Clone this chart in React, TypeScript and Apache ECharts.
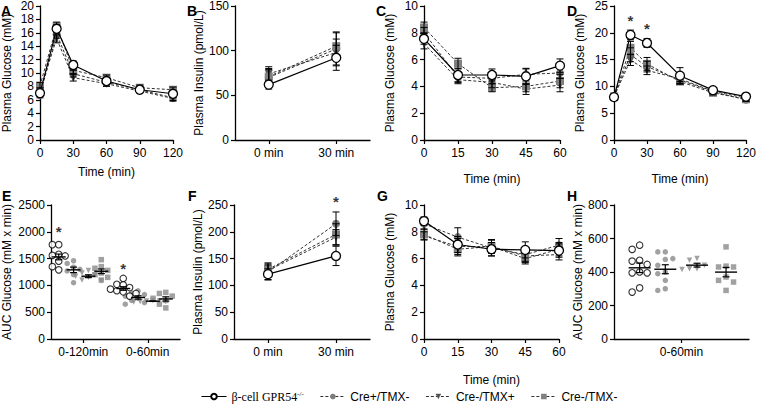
import React, { useEffect, useRef } from "react";
import * as echarts from "echarts";

// ---------- data ----------
const groupNames = ["β-cell GPR54-/-", "Cre+/TMX-", "Cre-/TMX+", "Cre-/TMX-"];

// Panel A (OGTT, 0-120 min)
const timeA = [0, 15, 30, 60, 90, 120];
const A_ko = [7.0, 16.6, 11.2, 8.8, 7.5, 6.9];
const A_ko_err = [0.4, 0.6, 0.6, 0.4, 0.4, 0.5];
const A_crePos = [6.7, 15.8, 9.9, 8.6, 7.5, 6.3];
const A_crePos_err = [0.4, 0.6, 0.5, 0.4, 0.3, 0.4];
const A_tmx = [7.4, 15.1, 9.3, 8.4, 7.3, 6.2];
const A_tmx_err = [0.4, 0.6, 0.5, 0.4, 0.3, 0.4];
const A_ctrl = [8.1, 17.0, 10.4, 9.3, 7.8, 7.5];
const A_ctrl_err = [0.5, 0.6, 0.5, 0.4, 0.4, 0.4];

// Panel B (insulin)
const catsInsulin = ["0 min", "30 min"];
const B_ko = [62, 92];
const B_ko_err = [5, 14];
const B_crePos = [70, 102];
const B_crePos_err = [10, 18];
const B_tmx = [74, 98];
const B_tmx_err = [8, 15];
const B_ctrl = [71, 105];
const B_ctrl_err = [8, 16];

// Panel C (0-60)
const timeC = [0, 15, 30, 45, 60];
const C_ko = [7.55, 4.85, 4.85, 4.75, 5.55];
const C_ko_err = [0.4, 0.5, 0.45, 0.6, 0.5];
const C_crePos = [8.0, 4.7, 4.6, 4.9, 5.0];
const C_crePos_err = [0.4, 0.4, 0.4, 0.4, 0.4];
const C_tmx = [7.2, 4.5, 4.3, 3.8, 4.1];
const C_tmx_err = [0.4, 0.3, 0.4, 0.4, 0.5];
const C_ctrl = [8.4, 5.7, 3.9, 4.0, 4.4];
const C_ctrl_err = [0.4, 0.4, 0.3, 0.4, 0.5];

// Panel D (0-120)
const timeD = [0, 15, 30, 60, 90, 120];
const D_ko = [8.0, 19.6, 18.1, 12.0, 9.3, 8.1];
const D_ko_err = [0.3, 0.9, 0.8, 1.5, 0.4, 0.3];
const D_crePos = [8.0, 15.9, 13.7, 11.2, 9.0, 7.5];
const D_crePos_err = [0.3, 1.3, 1.0, 0.6, 0.4, 0.3];
const D_tmx = [8.1, 14.9, 13.0, 11.4, 9.1, 7.8];
const D_tmx_err = [0.3, 1.0, 0.8, 0.5, 0.4, 0.3];
const D_ctrl = [8.0, 17.2, 14.2, 10.9, 8.8, 7.6];
const D_ctrl_err = [0.3, 1.2, 1.2, 0.5, 0.4, 0.3];
const D_stars = [[15, 22.8], [30, 21.3]];

// Panel E (AUC individual values)
const catsE = ["0-120min", "0-60min"];
const E120_ko = [1760, 1760, 1560, 1550, 1580, 1450, 1480, 1350, 1290];
const E120_crePos = [1460, 1410, 1340, 1300, 1270, 1200, 1050];
const E120_tmx = [1280, 1230, 1190, 1170, 1150, 1100, 1080];
const E120_ctrl = [1480, 1350, 1320, 1280, 1230, 1200, 1150, 1100];
const E60_ko = [1130, 1020, 1010, 960, 930, 900, 880, 850, 800];
const E60_crePos = [900, 860, 830, 800, 760, 720, 680, 650];
const E60_tmx = [720, 710, 700, 700, 690, 710];
const E60_ctrl = [870, 850, 800, 760, 720, 650, 580];
const E_stars = [[0, 2065], [1, 1380]]; // [category index, value]

// Panel F (insulin)
const F_ko = [121, 155];
const F_ko_err = [10, 18];
const F_crePos = [125, 215];
const F_crePos_err = [15, 22];
const F_tmx = [128, 190];
const F_tmx_err = [10, 14];
const F_ctrl = [130, 195];
const F_ctrl_err = [12, 20];
const F_stars = [[1, 262]];

// Panel G (0-60)
const timeG = [0, 15, 30, 45, 60];
const G_ko = [8.8, 7.05, 6.7, 6.65, 6.6];
const G_ko_err = [0.3, 0.6, 0.5, 0.6, 0.5];
const G_crePos = [8.6, 7.6, 6.8, 6.3, 7.0];
const G_crePos_err = [0.4, 0.7, 0.6, 0.5, 0.5];
const G_tmx = [7.7, 6.9, 6.9, 6.2, 6.3];
const G_tmx_err = [0.3, 0.6, 0.5, 0.5, 0.4];
const G_ctrl = [7.8, 6.7, 6.9, 6.0, 6.7];
const G_ctrl_err = [0.4, 0.5, 0.5, 0.4, 0.5];

// Panel H (AUC 0-60)
const catsH = ["0-60min"];
const H_ko = [560, 535, 470, 465, 445, 400, 395, 395, 305, 280];
const H_crePos = [520, 520, 480, 475, 440, 400, 390, 350, 300, 290];
const H_tmx = [480, 470, 440, 420, 420, 415];
const H_ctrl = [550, 430, 435, 430, 370, 350, 340, 290];

// ---------- styles ----------
const FONT = "Liberation Sans, Arial, sans-serif";
const TRI_DOWN = "path://M0,0 L10,0 L5,9 Z";
const groupStyle = [
  { symbol: "circle", symbolSize: 9, itemStyle: { color: "#ffffff", borderColor: "#000", borderWidth: 1.3 }, lineStyle: { color: "#000", width: 1.2, type: "solid" as any }, z: 5 },
  { symbol: "circle", symbolSize: 8, itemStyle: { color: "#7c7c7c" }, lineStyle: { color: "#333", width: 1, type: [3, 2] as any }, z: 3 },
  { symbol: TRI_DOWN, symbolSize: 8, itemStyle: { color: "#555555" }, lineStyle: { color: "#333", width: 1, type: [3, 2] as any }, z: 3 },
  { symbol: "rect", symbolSize: 8, itemStyle: { color: "#808080" }, lineStyle: { color: "#333", width: 1, type: [3, 2] as any }, z: 3 },
];

function mean(a: number[]) { return a.reduce((s, v) => s + v, 0) / a.length; }
function sem(a: number[]) {
  const m = mean(a);
  const v = a.reduce((s, x) => s + (x - m) * (x - m), 0) / (a.length - 1);
  return Math.sqrt(v / a.length);
}
// beeswarm offsets (px) for a column of values
function swarm(vals: number[], pxPerVal: number, d: number) {
  const placed: { x: number; y: number }[] = [];
  const out = new Array(vals.length).fill(0);
  const order = vals.map((_, i) => i).sort((a, b) => vals[b] - vals[a]);
  for (const i of order) {
    const y = vals[i] * pxPerVal;
    for (const k of [0, -1, 1, -2, 2, -3, 3]) {
      const c = k * d;
      if (placed.every((p) => Math.hypot(p.x - c, p.y - y) >= d * 0.95)) {
        out[i] = c; placed.push({ x: c, y }); break;
      }
    }
  }
  return out;
}

export default function App() {
  const ref = useRef<HTMLDivElement>(null);
  useEffect(() => {
    const chart = echarts.init(ref.current!, undefined, { renderer: "svg" });
    const grid: any[] = [], xAxis: any[] = [], yAxis: any[] = [], series: any[] = [];

    const axisCommon = {
      axisLine: { show: true, onZero: false, lineStyle: { color: "#000", width: 1.3 } },
      axisTick: { show: true, length: 4, lineStyle: { color: "#000", width: 1.2 } },
      axisLabel: { color: "#000", fontSize: 12, fontFamily: FONT },
      splitLine: { show: false },
      nameTextStyle: { color: "#000", fontSize: 12, fontFamily: FONT },
    };

    function addPanel(p: any) {
      const gi = grid.length;
      grid.push({ left: p.left, top: p.top, width: p.width, height: p.height });
      const xi = xAxis.length;
      if (p.dots) {
        const centersCat = p.cats.map((_: string, i: number) => i + 0.5);
        xAxis.push({ ...axisCommon, gridIndex: gi, type: "value", min: 0, max: p.cats.length,
          axisTick: { ...axisCommon.axisTick, customValues: centersCat },
          axisLabel: { ...axisCommon.axisLabel, margin: 7, customValues: centersCat,
            formatter: (v: number) => p.cats[Math.floor(v)] ?? "" } });
      } else if (p.cats) {
        xAxis.push({ ...axisCommon, gridIndex: gi, type: "category", data: p.cats, boundaryGap: true,
          axisTick: { ...axisCommon.axisTick, alignWithLabel: true },
          axisLabel: { ...axisCommon.axisLabel, margin: 7 } });
      } else {
        xAxis.push({ ...axisCommon, gridIndex: gi, type: "value", min: p.xMin, max: p.xMax, interval: p.xInterval,
          axisLabel: { ...axisCommon.axisLabel, margin: 7 },
          name: p.xName, nameLocation: "middle", nameGap: p.xNameGap });
      }
      const yi = yAxis.length;
      yAxis.push({ ...axisCommon, gridIndex: gi, type: "value", min: 0, max: p.yMax, interval: p.yInterval,
        axisLabel: { ...axisCommon.axisLabel, margin: 6, formatter: (v: number) => String(v) },
        name: p.yName, nameLocation: "middle", nameGap: p.yNameGap });
      return { gi, xi, yi };
    }

    function errSeries(xi: number, yi: number, data: number[][]) {
      series.push({
        type: "custom", xAxisIndex: xi, yAxisIndex: yi, z: 4, silent: true,
        encode: { x: 0, y: 1 }, data,
        renderItem: (_p: any, api: any) => {
          const x = api.value(0), m = api.value(1), e = api.value(2);
          const a = api.coord([x, m + e]); const b = api.coord([x, m - e]);
          const cw = 3.5; const st = { stroke: "#000", lineWidth: 1 };
          return { type: "group", children: [
            { type: "line", shape: { x1: a[0], y1: a[1], x2: b[0], y2: b[1] }, style: st },
            { type: "line", shape: { x1: a[0] - cw, y1: a[1], x2: a[0] + cw, y2: a[1] }, style: st },
            { type: "line", shape: { x1: b[0] - cw, y1: b[1], x2: b[0] + cw, y2: b[1] }, style: st },
          ] };
        },
      });
    }

    function starSeries(xi: number, yi: number, data: number[][]) {
      series.push({
        type: "scatter", xAxisIndex: xi, yAxisIndex: yi, data, symbolSize: 1, clip: false, z: 6,
        itemStyle: { color: "rgba(0,0,0,0)" }, silent: true,
        label: { show: true, formatter: "*", position: "inside", fontSize: 15, fontWeight: "bold", color: "#000", fontFamily: FONT, offset: [0, 3] },
      });
    }

    function linePanel(p: any, xs: number[] | null, vals: number[][], errs: number[][], stars?: number[][]) {
      const { xi, yi } = addPanel(p);
      const errData: number[][] = [];
      [1, 2, 3, 0].forEach((g) => {
        const st = groupStyle[g];
        series.push({
          type: "line", name: groupNames[g], xAxisIndex: xi, yAxisIndex: yi,
          data: vals[g].map((v, k) => [xs ? xs[k] : k, v]),
          symbol: st.symbol, symbolSize: st.symbolSize, itemStyle: st.itemStyle, lineStyle: st.lineStyle,
          z: st.z, showAllSymbol: true,
        });
        vals[g].forEach((v, k) => errData.push([xs ? xs[k] : k, v, errs[g][k]]));
      });
      errSeries(xi, yi, errData);
      if (stars) starSeries(xi, yi, stars);
    }

    function dotPanel(p: any, cols: number[][][], offsets: number[], stars?: number[][]) {
      const { xi, yi } = addPanel({ ...p, dots: true });
      const nCat = p.cats.length;
      const pxPerVal = p.height / p.yMax;
      const pxPerX = p.width / nCat;
      const meanData: number[][] = [];
      [1, 2, 3, 0].forEach((g) => {
        const st = groupStyle[g];
        const data: number[][] = [];
        cols.forEach((colSet, ci) => {
          const vals = colSet[g];
          const cx = ci + 0.5 + offsets[g];
          const offs = swarm(vals, pxPerVal, p.dot);
          vals.forEach((v, k) => data.push([cx + offs[k] / pxPerX, v]));
          meanData.push([cx, mean(vals), sem(vals)]);
        });
        series.push({
          type: "scatter", name: groupNames[g], xAxisIndex: xi, yAxisIndex: yi, data,
          symbol: st.symbol, symbolSize: g === 0 ? 6.5 : 5.5,
          itemStyle: g === 0 ? { color: "#fff", borderColor: "#000", borderWidth: 1.1 } : { ...st.itemStyle, color: "#8a8a8a" }, z: 3,
        });
      });
      series.push({
        type: "custom", xAxisIndex: xi, yAxisIndex: yi, z: 5, silent: true, encode: { x: 0, y: 1 }, data: meanData,
        renderItem: (_p: any, api: any) => {
          const x = api.value(0), m = api.value(1), e = api.value(2);
          const c = api.coord([x, m]); const a = api.coord([x, m + e]); const b = api.coord([x, m - e]);
          const st = { stroke: "#000", lineWidth: 1.2 };
          return { type: "group", children: [
            { type: "line", shape: { x1: c[0] - p.meanHalf, y1: c[1], x2: c[0] + p.meanHalf, y2: c[1] }, style: { stroke: "#000", lineWidth: 1.4 } },
            { type: "line", shape: { x1: a[0], y1: a[1], x2: b[0], y2: b[1] }, style: st },
            { type: "line", shape: { x1: a[0] - 3.5, y1: a[1], x2: a[0] + 3.5, y2: a[1] }, style: st },
            { type: "line", shape: { x1: b[0] - 3.5, y1: b[1], x2: b[0] + 3.5, y2: b[1] }, style: st },
          ] };
        },
      });
      if (stars) starSeries(xi, yi, stars.map((s) => [s[0] + 0.5 + offsets[0], s[1]]));
    }

    const rowTop1 = 5, rowH1 = 135, rowTop2 = 205, rowH2 = 134;

    linePanel({ left: 39, top: rowTop1, width: 134, height: rowH1, xMin: 0, xMax: 120, xInterval: 30, xName: "Time (min)", xNameGap: 26, yMax: 20, yInterval: 2, yName: "Plasma Glucose (mM)", yNameGap: 27 },
      timeA, [A_ko, A_crePos, A_tmx, A_ctrl], [A_ko_err, A_crePos_err, A_tmx_err, A_ctrl_err]);
    linePanel({ left: 235, top: rowTop1, width: 135, height: rowH1, cats: catsInsulin, yMax: 150, yInterval: 50, yName: "Plasma Insulin (pmol/L)", yNameGap: 28 },
      null, [B_ko, B_crePos, B_tmx, B_ctrl], [B_ko_err, B_crePos_err, B_tmx_err, B_ctrl_err]);
    linePanel({ left: 424, top: rowTop1, width: 136, height: rowH1, xMin: 0, xMax: 60, xInterval: 15, xName: "Time (min)", xNameGap: 33, yMax: 10, yInterval: 2, yName: "Plasma Glucose (mM)", yNameGap: 28 },
      timeC, [C_ko, C_crePos, C_tmx, C_ctrl], [C_ko_err, C_crePos_err, C_tmx_err, C_ctrl_err]);
    linePanel({ left: 614, top: rowTop1, width: 139, height: rowH1, xMin: 0, xMax: 120, xInterval: 30, xName: "Time (min)", xNameGap: 33, yMax: 25, yInterval: 5, yName: "Plasma Glucose (mM)", yNameGap: 28 },
      timeD, [D_ko, D_crePos, D_tmx, D_ctrl], [D_ko_err, D_crePos_err, D_tmx_err, D_ctrl_err], D_stars);

    dotPanel({ left: 49, top: rowTop2, width: 131, height: rowH2, cats: catsE, yMax: 2500, yInterval: 500, yName: "AUC Glucose (mM x min)", yNameGap: 38, dot: 6.5, meanHalf: 7 },
      [[E120_ko, E120_crePos, E120_tmx, E120_ctrl], [E60_ko, E60_crePos, E60_tmx, E60_ctrl]],
      [-0.38, -0.15, 0.08, 0.28], E_stars);
    linePanel({ left: 234, top: rowTop2, width: 136, height: rowH2, cats: catsInsulin, yMax: 250, yInterval: 50, yName: "Plasma Insulin (pmol/L)", yNameGap: 28 },
      null, [F_ko, F_crePos, F_tmx, F_ctrl], [F_ko_err, F_crePos_err, F_tmx_err, F_ctrl_err], F_stars);
    linePanel({ left: 424, top: rowTop2, width: 135, height: rowH2, xMin: 0, xMax: 60, xInterval: 15, xName: "Time (min)", xNameGap: 35, yMax: 10, yInterval: 2, yName: "Plasma Glucose (mM)", yNameGap: 28 },
      timeG, [G_ko, G_crePos, G_tmx, G_ctrl], [G_ko_err, G_crePos_err, G_tmx_err, G_ctrl_err]);
    dotPanel({ left: 614, top: rowTop2, width: 135, height: rowH2, cats: catsH, yMax: 800, yInterval: 200, yName: "AUC Glucose (mM x min)", yNameGap: 28, dot: 7.5, meanHalf: 11 },
      [[H_ko, H_crePos, H_tmx, H_ctrl]],
      [-0.31, -0.12, 0.115, 0.33]);

    const letters = [["A", 1, 4], ["B", 187, 4], ["C", 376, 4], ["D", 567, 4], ["E", 2, 189], ["F", 188, 189], ["G", 377, 189], ["H", 567, 189]];

    chart.setOption({
      animation: false,
      textStyle: { fontFamily: FONT },
      grid, xAxis, yAxis, series,
      legend: {
        data: groupNames, left: 196, top: 385, itemWidth: 25, itemHeight: 7, itemGap: 16, selectedMode: false,
        lineStyle: { width: 1 },
        formatter: (n: string) => (n === groupNames[0] ? "{serif|β-cell GPR54}{sup|-/-}" : n),
        textStyle: {
          color: "#000", fontSize: 12, fontFamily: FONT,
          rich: {
            serif: { fontFamily: "Liberation Serif", fontSize: 12, color: "#000" },
            sup: { fontFamily: "Liberation Serif", fontSize: 7, color: "#000", verticalAlign: "top", padding: [0, 0, 6, 0] },
          },
        },
      },
      graphic: letters.map(([t, x, y]) => ({
        type: "text", left: x, top: y, style: { text: t, font: `bold 14px ${FONT}`, fill: "#000" },
      })),
    });
    return () => chart.dispose();
  }, []);
  return <div ref={ref} style={{ position: "absolute", left: 0, top: 0, width: 759, height: 404 }} />;
}
